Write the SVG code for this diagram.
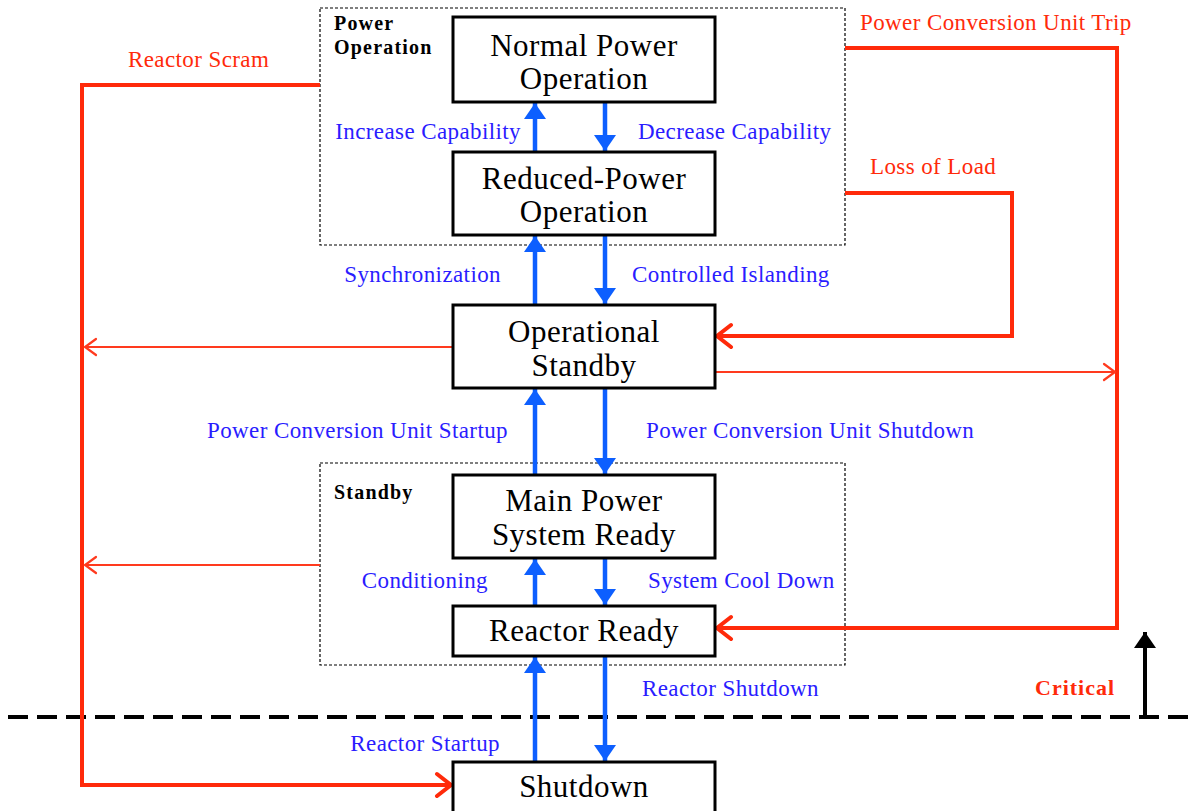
<svg xmlns="http://www.w3.org/2000/svg" width="1191" height="811" viewBox="0 0 1191 811">
  <style>
    .node rect { fill: #ffffff; stroke: #000000; stroke-width: 3; }
    .node text { font-family: "Liberation Serif", "Times New Roman", serif; font-size: 31px; letter-spacing: 0.5px; fill: #000000; text-anchor: middle; }
    .group rect { fill: none; stroke: #000000; stroke-width: 1.2; stroke-dasharray: 3 2; }
    .group text { font-family: "Liberation Serif", "Times New Roman", serif; font-size: 20px; letter-spacing: 1.2px; font-weight: bold; fill: #000000; }
    .flow { stroke: #0d5fff; stroke-width: 4.5; fill: none; marker-end: url(#blueHead); }
    .trip { stroke: #ff2a0a; stroke-width: 4; fill: none; stroke-linejoin: miter; marker-end: url(#redOpen); }
    .trip-thin { stroke: #ff3a1e; stroke-width: 1.8; fill: none; marker-end: url(#redOpenThin); }
    .lbl-blue { font-family: "Liberation Serif", "Times New Roman", serif; font-size: 23px; letter-spacing: 0.4px; fill: #2a1cff; }
    .lbl-red { font-family: "Liberation Serif", "Times New Roman", serif; font-size: 23px; letter-spacing: 0.4px; fill: #ff2a0a; }
  </style>
  <defs>
    <marker id="blueHead" markerUnits="userSpaceOnUse" viewBox="0 0 16 22" refX="16" refY="11" markerWidth="16" markerHeight="22" orient="auto">
      <path d="M0,0 L16,11 L0,22 Z" fill="#0d5fff"/>
    </marker>
    <marker id="redOpen" markerUnits="userSpaceOnUse" viewBox="0 0 20 28" refX="17" refY="14" markerWidth="20" markerHeight="28" orient="auto">
      <path d="M3,3 L17,14 L3,25" fill="none" stroke="#ff2a0a" stroke-width="4" stroke-linecap="round" stroke-linejoin="miter"/>
    </marker>
    <marker id="redOpenThin" markerUnits="userSpaceOnUse" viewBox="0 0 16 22" refX="14" refY="11" markerWidth="16" markerHeight="22" orient="auto">
      <path d="M3,3 L14,11 L3,19" fill="none" stroke="#ff3a1e" stroke-width="2.2" stroke-linecap="round"/>
    </marker>
    <marker id="blackHead" markerUnits="userSpaceOnUse" viewBox="0 0 16 22" refX="16" refY="11" markerWidth="16" markerHeight="22" orient="auto">
      <path d="M0,0 L16,11 L0,22 Z" fill="#000000"/>
    </marker>
  </defs>

  <rect x="0" y="0" width="1191" height="811" fill="#ffffff"/>

  <!-- state groups -->
  <g id="group-power-operation" class="group">
    <rect x="320" y="8" width="525" height="237"/>
    <text x="334" y="30">Power</text>
    <text x="334" y="54">Operation</text>
  </g>
  <g id="group-standby" class="group">
    <rect x="320" y="463" width="525" height="202"/>
    <text x="334" y="499">Standby</text>
  </g>

  <!-- criticality boundary -->
  <g id="critical-boundary">
    <line x1="8" y1="717" x2="1191" y2="717" stroke="#000000" stroke-width="4" stroke-dasharray="20 9"/>
    <line x1="1145" y1="717" x2="1145" y2="632" stroke="#000000" stroke-width="4" marker-end="url(#blackHead)"/>
    <text x="1035" y="695" font-family="Liberation Serif, Times New Roman, serif" font-size="22" letter-spacing="1" font-weight="bold" fill="#ff2a0a">Critical</text>
  </g>

  <!-- connectors -->
  <g id="connectors">
    <!-- normal transitions -->
    <line class="flow" x1="535" y1="152" x2="535" y2="103"/>
    <line class="flow" x1="605" y1="102" x2="605" y2="151"/>
    <line class="flow" x1="535" y1="305" x2="535" y2="236"/>
    <line class="flow" x1="605" y1="235" x2="605" y2="304"/>
    <line class="flow" x1="535" y1="475" x2="535" y2="389"/>
    <line class="flow" x1="605" y1="388" x2="605" y2="474"/>
    <line class="flow" x1="535" y1="606" x2="535" y2="559"/>
    <line class="flow" x1="605" y1="558" x2="605" y2="605"/>
    <line class="flow" x1="535" y1="762" x2="535" y2="657"/>
    <line class="flow" x1="605" y1="656" x2="605" y2="761"/>

    <!-- abnormal transitions -->
    <polyline class="trip" points="320,85 82,85 82,785 451,785"/>
    <line class="trip-thin" x1="453" y1="347" x2="85" y2="347"/>
    <line class="trip-thin" x1="320" y1="565" x2="85" y2="565"/>
    <polyline class="trip" points="845,48 1117,48 1117,628 717,628"/>
    <polyline class="trip" points="845,193 1012,193 1012,336 717,336"/>
    <line class="trip-thin" x1="715" y1="372" x2="1115" y2="372"/>
  </g>

  <!-- transition labels -->
  <g id="labels">
    <text class="lbl-blue" x="521" y="139" text-anchor="end">Increase Capability</text>
    <text class="lbl-blue" x="638" y="139">Decrease Capability</text>
    <text class="lbl-blue" x="501" y="282" text-anchor="end">Synchronization</text>
    <text class="lbl-blue" x="632" y="282">Controlled Islanding</text>
    <text class="lbl-blue" x="508" y="438" text-anchor="end">Power Conversion Unit Startup</text>
    <text class="lbl-blue" x="646" y="438">Power Conversion Unit Shutdown</text>
    <text class="lbl-blue" x="488" y="588" text-anchor="end">Conditioning</text>
    <text class="lbl-blue" x="648" y="588">System Cool Down</text>
    <text class="lbl-blue" x="642" y="696">Reactor Shutdown</text>
    <text class="lbl-blue" x="500" y="751" text-anchor="end">Reactor Startup</text>
    <text class="lbl-red" x="128" y="67">Reactor Scram</text>
    <text class="lbl-red" x="860" y="30">Power Conversion Unit Trip</text>
    <text class="lbl-red" x="870" y="174">Loss of Load</text>
  </g>

  <!-- states -->
  <g id="normal-power-operation" class="node">
    <rect x="453" y="17" width="262" height="85"/>
    <text x="584" y="56">Normal Power</text>
    <text x="584" y="89">Operation</text>
  </g>
  <g id="reduced-power-operation" class="node">
    <rect x="453" y="152" width="262" height="83"/>
    <text x="584" y="189">Reduced-Power</text>
    <text x="584" y="222">Operation</text>
  </g>
  <g id="operational-standby" class="node">
    <rect x="453" y="305" width="262" height="83"/>
    <text x="584" y="342">Operational</text>
    <text x="584" y="376">Standby</text>
  </g>
  <g id="main-power-system-ready" class="node">
    <rect x="453" y="475" width="262" height="83"/>
    <text x="584" y="511">Main Power</text>
    <text x="584" y="545">System Ready</text>
  </g>
  <g id="reactor-ready" class="node">
    <rect x="453" y="606" width="262" height="50"/>
    <text x="584" y="641">Reactor Ready</text>
  </g>
  <g id="shutdown" class="node">
    <rect x="453" y="762" width="262" height="60"/>
    <text x="584" y="797">Shutdown</text>
  </g>
</svg>
